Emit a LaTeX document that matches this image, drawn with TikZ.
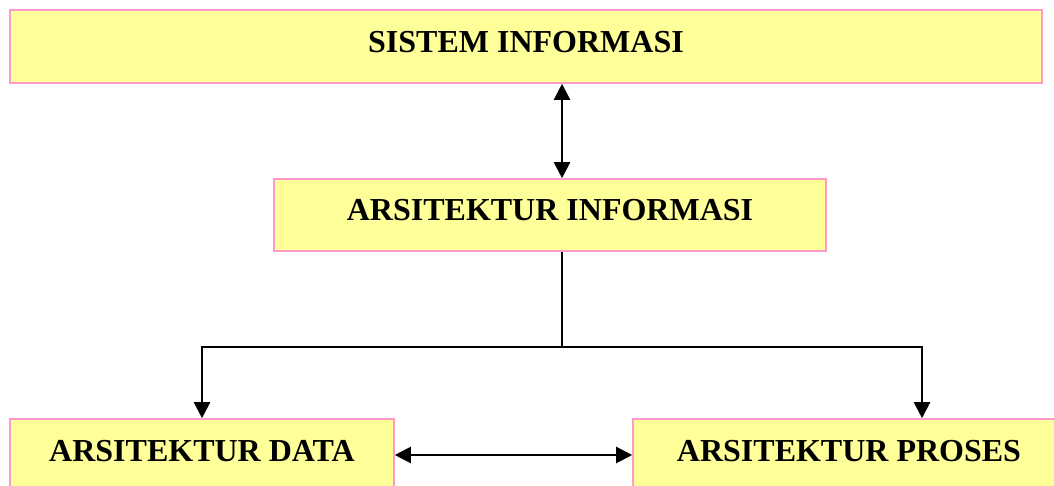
\documentclass[tikz,border=0pt]{standalone}
\usepackage{fontspec}
\setmainfont{Liberation Serif}
\usetikzlibrary{arrows.meta}
\definecolor{boxfill}{HTML}{FFFF99}
\definecolor{boxline}{HTML}{FF99CC}
\begin{document}
\begin{tikzpicture}[x=1pt,y=-1pt,
  archbox/.style={draw=boxline,fill=boxfill,line width=1.6pt,rectangle,
    inner sep=0pt,font=\bfseries\fontsize{32}{36}\selectfont,
    text height=22pt,text depth=10pt},
  link/.style={line width=2.2pt,black,
    arrows={-Triangle[length=16pt,width=16pt]}},
  biLink/.style={line width=2.2pt,black,
    arrows={Triangle[length=16pt,width=16pt]-Triangle[length=16pt,width=16pt]}}]
  \useasboundingbox (0,0) rectangle (1054,486);
  \clip (0,0) rectangle (1054,486);
  % boxes
  \node[archbox,minimum width=1032pt,minimum height=73pt] (sis) at (526,46.5) {SISTEM INFORMASI};
  \node[archbox,minimum width=552pt,minimum height=72pt] (ai) at (550,215) {ARSITEKTUR INFORMASI};
  \node[archbox,minimum width=384pt,minimum height=72pt] (ad) at (202,455) {ARSITEKTUR DATA};
  \node[archbox,minimum width=432pt,minimum height=72pt] (ap) at (849,455) {ARSITEKTUR PROSES};
  % reference points for the connectors
  \coordinate (axis) at (562,0);
  \coordinate (split) at (562,347);
  \coordinate (rdrop) at (922,0);
  % connectors
  \draw[biLink] (sis.south -| axis) -- (ai.north -| axis);
  \draw[line width=2.2pt] (ai.south -| axis) -- (split);
  \draw[link] (split) -| (ad.north);
  \draw[link] (split) -| (ap.north -| rdrop);
  \draw[biLink] (ad.east) -- (ap.west);
\end{tikzpicture}
\end{document}
